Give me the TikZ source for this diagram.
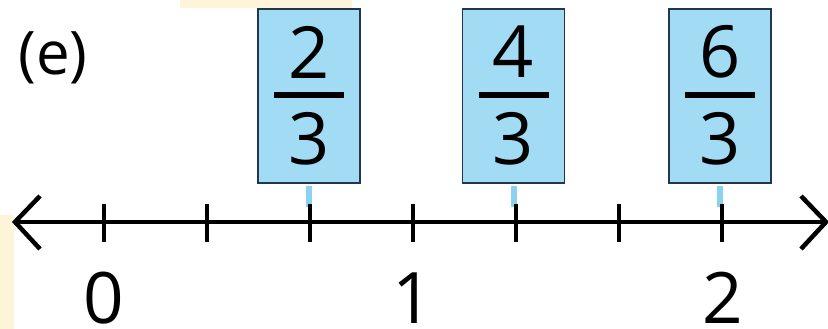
\documentclass[tikz,border=0pt]{standalone}
\usepackage{fontspec}
\setmainfont{Open Sans}
\definecolor{cream}{HTML}{FDF4DA}
\definecolor{boxblue}{HTML}{A2DCF4}
\definecolor{boxedge}{HTML}{23364F}
\definecolor{markblue}{HTML}{8CD2EE}
\begin{document}
\begin{tikzpicture}[x=1pt,y=-1pt,
  fracbox/.style={draw=boxedge,line width=1.6pt,fill=boxblue,minimum width=102pt,minimum height=174pt,inner sep=0pt,anchor=north},
  digit/.style={font=\fontsize{72}{72}\selectfont,inner sep=0pt},
  lab/.style={font=\fontsize{71}{71}\selectfont,inner sep=0pt,anchor=base},
  tick/.style={line width=4.5pt},
  axisline/.style={line width=4.5pt},
  barline/.style={line width=5.5pt}]
\useasboundingbox (0,0) rectangle (828,329);
\fill[white] (0,0) rectangle (828,329);
\fill[cream] (180,0) rectangle (352,8);
\fill[cream] (0,215) rectangle (14,329);
% label
\node[font=\fontsize{60}{60}\selectfont,inner sep=0pt] (e) at (53,58) {(e)};
% boxes
\foreach \n/\x/\num in {a/309/2,b/513.5/4,c/720/6}{
  \node[fracbox] (box\n) at (\x,8) {};
  \node[digit] (num\n) at (\x,52) {\num};
  \node[digit] (den\n) at (\x,139) {3};
  \coordinate (bl\n) at (\x-35,95);
  \coordinate (br\n) at (\x+35,95);
  \draw[barline] (bl\n) -- (br\n);
  \fill[markblue] (\x-3,186) rectangle (\x+3,207);
}
% axis
\coordinate (L) at (15,222);
\coordinate (R) at (826,222);
\draw[axisline] (L) -- (R);
\draw[axisline,line join=miter] (40,196) -- (L) -- (40,249);
\draw[axisline,line join=miter] (801,196) -- (R) -- (801,249);
\foreach \i/\x in {0/104,1/207,2/310,3/413,4/516,5/619,6/722}{
  \coordinate (t\i) at (\x,204);
  \coordinate (b\i) at (\x,242);
  \draw[tick] (t\i) -- (b\i);
}
\node[lab] (l0) at (104,323) {0};
\node[lab] (l1) at (413,323) {1};
\node[lab] (l2) at (723,323) {2};
\end{tikzpicture}
\end{document}
